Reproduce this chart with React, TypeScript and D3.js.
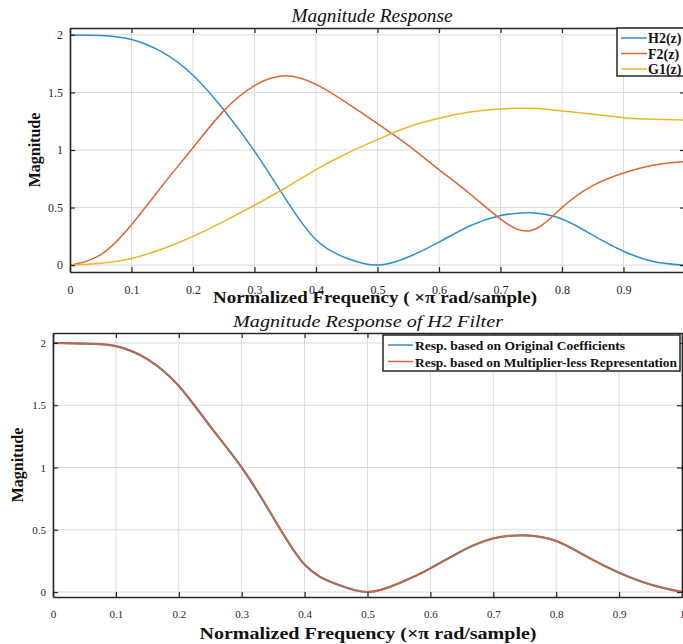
import React, { useRef, useEffect } from 'react';
import * as d3 from 'd3';

// ---------------- data ----------------
const FREQ = [0, 0.05, 0.1, 0.15, 0.2, 0.25, 0.3, 0.35, 0.4, 0.45, 0.5, 0.55, 0.6, 0.65, 0.7, 0.75, 0.8, 0.85, 0.9, 0.95, 1];
const H2_TOP = [2.0, 1.995, 1.96, 1.85, 1.65, 1.35, 0.99, 0.58, 0.22, 0.06, 0.0, 0.07, 0.2, 0.34, 0.43, 0.455, 0.4, 0.26, 0.12, 0.03, 0.0];
const F2_TOP = [0.0, 0.09, 0.35, 0.69, 1.02, 1.34, 1.56, 1.645, 1.57, 1.41, 1.23, 1.04, 0.83, 0.62, 0.4, 0.3, 0.5, 0.69, 0.8, 0.87, 0.9];
const G1_TOP = [0.0, 0.015, 0.058, 0.14, 0.25, 0.38, 0.52, 0.67, 0.83, 0.97, 1.09, 1.2, 1.276, 1.33, 1.357, 1.362, 1.339, 1.31, 1.281, 1.267, 1.26];
const H2_ORIGINAL = [2.0, 1.995, 1.975, 1.87, 1.655, 1.33, 1.0, 0.6, 0.22, 0.065, 0.0, 0.07, 0.19, 0.33, 0.43, 0.455, 0.41, 0.28, 0.155, 0.06, 0.0];
const H2_MULTLESS = [2.0, 1.995, 1.975, 1.87, 1.655, 1.33, 1.0, 0.6, 0.22, 0.065, 0.0, 0.07, 0.19, 0.33, 0.43, 0.455, 0.41, 0.28, 0.155, 0.06, 0.0];

const X_TICKS = [0, 0.1, 0.2, 0.3, 0.4, 0.5, 0.6, 0.7, 0.8, 0.9, 1];
const X_TICK_LABELS = ['0', '0.1', '0.2', '0.3', '0.4', '0.5', '0.6', '0.7', '0.8', '0.9', '1'];
const Y_TICKS = [0, 0.5, 1, 1.5, 2];
const Y_TICK_LABELS = ['0', '0.5', '1', '1.5', '2'];

const TOP_SERIES = ['H2(z)', 'F2(z)', 'G1(z)'];
const BOTTOM_SERIES = ['Resp. based on Original Coefficients', 'Resp. based on Multiplier-less Representation'];

const BLUE = '#2f8fd2';
const ORANGE = '#dc6634';
const YELLOW = '#efb42c';
const AXIS = '#262626';
const GRID = '#dadada';
const SERIF = '"Liberation Serif", "DejaVu Serif", serif';

type Panel = {
  id: string;
  left: number; right: number; top: number; bottom: number;
  yDomain: [number, number];
  tickFont: number;
  series: { values: number[]; color: string; width: number }[];
};

function drawPanel(svg: d3.Selection<SVGSVGElement, unknown, null, undefined>, p: Panel) {
  const x = d3.scaleLinear().domain([0, 1]).range([p.left, p.right]);
  const y = d3.scaleLinear().domain(p.yDomain).range([p.bottom, p.top]);
  const g = svg.append('g');

  g.append('rect').attr('x', p.left).attr('y', p.top)
    .attr('width', p.right - p.left).attr('height', p.bottom - p.top).attr('fill', '#fff');

  // grid
  g.append('g').selectAll('line').data(X_TICKS).join('line')
    .attr('x1', d => x(d)).attr('x2', d => x(d)).attr('y1', p.top).attr('y2', p.bottom)
    .attr('stroke', GRID).attr('stroke-width', 1);
  g.append('g').selectAll('line').data(Y_TICKS).join('line')
    .attr('y1', d => y(d)).attr('y2', d => y(d)).attr('x1', p.left).attr('x2', p.right)
    .attr('stroke', GRID).attr('stroke-width', 1);

  // clip
  svg.append('defs').append('clipPath').attr('id', p.id)
    .append('rect').attr('x', p.left).attr('y', p.top)
    .attr('width', p.right - p.left).attr('height', p.bottom - p.top);

  const line = d3.line<number>()
    .x((_, i) => x(FREQ[i]))
    .y(d => y(d))
    .curve(d3.curveNatural);

  const lg = g.append('g').attr('clip-path', `url(#${p.id})`);
  p.series.forEach(s => {
    lg.append('path').attr('d', line(s.values) as string)
      .attr('fill', 'none').attr('stroke', s.color).attr('stroke-width', s.width)
      .attr('stroke-linejoin', 'round');
  });

  // axes
  const fmtX = (_: any, i: number) => X_TICK_LABELS[i];
  const fmtY = (_: any, i: number) => Y_TICK_LABELS[i];
  const bottomAxis = g.append('g').attr('transform', `translate(0,${p.bottom})`)
    .call(d3.axisBottom(x).tickValues(X_TICKS).tickFormat(fmtX as any).tickSizeInner(-5).tickSizeOuter(0).tickPadding(13));
  const topAxis = g.append('g').attr('transform', `translate(0,${p.top})`)
    .call(d3.axisTop(x).tickValues(X_TICKS).tickFormat(() => '').tickSizeInner(-5).tickSizeOuter(0));
  const leftAxis = g.append('g').attr('transform', `translate(${p.left},0)`)
    .call(d3.axisLeft(y).tickValues(Y_TICKS).tickFormat(fmtY as any).tickSizeInner(-5).tickSizeOuter(0).tickPadding(7));
  const rightAxis = g.append('g').attr('transform', `translate(${p.right},0)`)
    .call(d3.axisRight(y).tickValues(Y_TICKS).tickFormat(() => '').tickSizeInner(-5).tickSizeOuter(0));

  [bottomAxis, topAxis, leftAxis, rightAxis].forEach(a => {
    a.select('.domain').attr('stroke', AXIS).attr('stroke-width', 1.6);
    a.selectAll('.tick line').attr('stroke', AXIS).attr('stroke-width', 1.2);
    a.selectAll('.tick text').attr('fill', AXIS).attr('font-family', SERIF).attr('font-size', p.tickFont);
  });
}

export default function App() {
  const ref = useRef<SVGSVGElement>(null);

  useEffect(() => {
    const svg = d3.select(ref.current as SVGSVGElement);
    svg.selectAll('*').remove();

    // ---- top panel ----
    drawPanel(svg, {
      id: 'clipTop', left: 70, right: 685, top: 28, bottom: 272,
      yDomain: [-0.06, 2.06], tickFont: 12,
      series: [
        { values: H2_TOP, color: BLUE, width: 1.5 },
        { values: F2_TOP, color: ORANGE, width: 1.5 },
        { values: G1_TOP, color: YELLOW, width: 1.5 },
      ],
    });

    svg.append('text').attr('x', 372).attr('y', 22).attr('text-anchor', 'middle')
      .attr('font-family', SERIF).attr('font-style', 'italic').attr('font-size', 18)
      .attr('textLength', 161).attr('lengthAdjust', 'spacingAndGlyphs')
      .attr('fill', '#111').text('Magnitude Response');
    svg.append('text').attr('x', 375).attr('y', 303).attr('text-anchor', 'middle')
      .attr('font-family', SERIF).attr('font-weight', 'bold').attr('font-size', 17)
      .attr('textLength', 324).attr('lengthAdjust', 'spacingAndGlyphs')
      .attr('fill', '#111').text('Normalized Frequency (  \u00d7\u03c0 rad/sample)');
    svg.append('text').attr('transform', 'translate(40,150) rotate(-90)').attr('text-anchor', 'middle')
      .attr('font-family', SERIF).attr('font-weight', 'bold').attr('font-size', 16)
      .attr('fill', '#111').text('Magnitude');

    // top legend
    const tl = svg.append('g');
    tl.append('rect').attr('x', 617).attr('y', 28).attr('width', 72).attr('height', 48)
      .attr('fill', '#fff').attr('stroke', AXIS).attr('stroke-width', 1.5);
    const topColors = [BLUE, ORANGE, YELLOW];
    TOP_SERIES.forEach((name, i) => {
      const yy = 38 + i * 15.5;
      tl.append('line').attr('x1', 621).attr('x2', 647).attr('y1', yy).attr('y2', yy)
        .attr('stroke', topColors[i]).attr('stroke-width', 1.5);
      tl.append('text').attr('x', 648).attr('y', yy + 5)
        .attr('font-family', SERIF).attr('font-weight', 'bold').attr('font-size', 14)
        .attr('fill', '#111').text(name);
    });

    // ---- bottom panel ----
    drawPanel(svg, {
      id: 'clipBottom', left: 53, right: 682, top: 333, bottom: 597,
      yDomain: [-0.04, 2.08], tickFont: 11,
      series: [
        { values: H2_ORIGINAL, color: BLUE, width: 2.2 },
        { values: H2_MULTLESS, color: '#cf6436', width: 1.8 },
      ],
    });

    svg.append('text').attr('x', 368).attr('y', 327).attr('text-anchor', 'middle')
      .attr('font-family', SERIF).attr('font-style', 'italic').attr('font-size', 17)
      .attr('textLength', 270).attr('lengthAdjust', 'spacingAndGlyphs')
      .attr('fill', '#111').text('Magnitude Response of H2 Filter');
    svg.append('text').attr('x', 368).attr('y', 639).attr('text-anchor', 'middle')
      .attr('font-family', SERIF).attr('font-weight', 'bold').attr('font-size', 17)
      .attr('textLength', 337).attr('lengthAdjust', 'spacingAndGlyphs')
      .attr('fill', '#111').text('Normalized Frequency (\u00d7\u03c0 rad/sample)');
    svg.append('text').attr('transform', 'translate(23,465) rotate(-90)').attr('text-anchor', 'middle')
      .attr('font-family', SERIF).attr('font-weight', 'bold').attr('font-size', 16)
      .attr('fill', '#111').text('Magnitude');

    const bl = svg.append('g');
    bl.append('rect').attr('x', 383).attr('y', 335).attr('width', 297).attr('height', 36)
      .attr('fill', '#fff').attr('stroke', AXIS).attr('stroke-width', 1.5);
    const botColors = [BLUE, ORANGE];
    const botWidths = [210, 262];
    BOTTOM_SERIES.forEach((name, i) => {
      const yy = 345 + i * 16.5;
      bl.append('line').attr('x1', 388).attr('x2', 413).attr('y1', yy).attr('y2', yy)
        .attr('stroke', botColors[i]).attr('stroke-width', 1.5);
      bl.append('text').attr('x', 415).attr('y', yy + 5)
        .attr('font-family', SERIF).attr('font-weight', 'bold').attr('font-size', 13)
        .attr('textLength', botWidths[i]).attr('lengthAdjust', 'spacingAndGlyphs')
        .attr('fill', '#111').text(name);
    });
  }, []);

  return (
    <svg ref={ref} width={683} height={644}
      style={{ position: 'absolute', left: 0, top: 0, background: '#fff' }} />
  );
}
